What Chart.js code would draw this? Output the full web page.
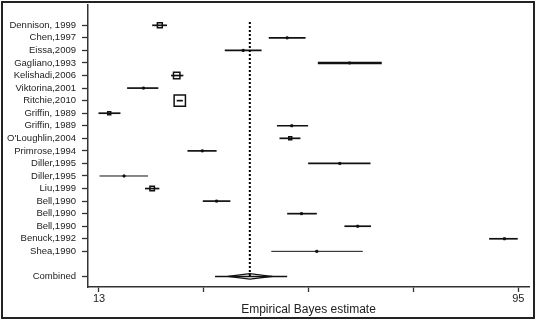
<!DOCTYPE html>
<html>
<head>
<meta charset="utf-8">
<script src="https://cdn.jsdelivr.net/npm/chart.js@4"></script>
<style>
  body { margin: 0; background: #fff; }
  #wrap { width: 536px; height: 320px; }
</style>
</head>
<body>
<div id="wrap"><canvas id="forestChart"></canvas></div>
<script>
// Study labels (top to bottom), combined row sits after one blank row
const studies = ['Dennison, 1999', 'Chen,1997', 'Eissa,2009', 'Gagliano,1993', 'Kelishadi,2006',
  'Viktorina,2001', 'Ritchie,2010', 'Griffin, 1989', 'Griffin, 1989', "O'Loughlin,2004",
  'Primrose,1994', 'Diller,1995', 'Diller,1995', 'Liu,1999', 'Bell,1990', 'Bell,1990',
  'Bell,1990', 'Benuck,1992', 'Shea,1990'];

// Point estimates and interval ends
const estimate = [24.9, 49.8, 41.2, 62.0, 28.2, 21.7, 28.8, 15.0, 50.7, 50.4,
  33.2, 60.1, 17.9, 23.4, 36.0, 52.6, 63.6, 92.3, 55.6];
const lower = [23.4, 46.2, 37.6, 55.8, 27.1, 18.5, 28.2, 12.9, 47.8, 48.3,
  30.3, 53.9, 13.1, 22.0, 33.3, 49.8, 61.0, 89.3, 46.7];
const upper = [26.3, 53.4, 44.8, 68.3, 29.5, 24.6, 29.4, 17.2, 53.9, 52.4,
  36.0, 66.1, 22.6, 24.8, 38.7, 55.6, 66.2, 94.9, 64.6];
// relative study weights (box area)
const weights = [3.0, 0.5, 0.5, 0.5, 5.2, 0.5, 16, 1.1, 0.5, 1.1,
  0.5, 0.5, 0.5, 2.5, 0.5, 0.5, 0.5, 0.5, 0.5];

// Combined estimate
const combinedLabel = 'Combined';
const combinedEst = 42.5;
const combinedCI = [35.7, 49.8];
const combinedDiamond = [38.2, 46.8];

// x axis tick values, only the ends are labelled
const xTicks = [13, 33.5, 54, 74.5, 95];
const xTickLabels = ['13', '', '', '', '95'];

const combinedRow = studies.length + 1;
const rowLabels = {};
studies.forEach((s, i) => rowLabels[i] = s);
rowLabels[combinedRow] = combinedLabel;

// line thickness tweaks for a few intervals
const thick = { 3: 2.6 };
const thin = { 12: 1, 18: 1 };

const datasets = [];

// dotted reference line at the combined estimate
datasets.push({
  data: [{ x: combinedEst, y: -0.27 }, { x: combinedEst, y: combinedRow - 0.03 }],
  showLine: true, borderColor: '#000', borderWidth: 2, borderDash: [2, 2],
  pointRadius: 0
});

// confidence interval lines
studies.forEach((s, i) => {
  datasets.push({
    data: [{ x: lower[i], y: i }, { x: upper[i], y: i }],
    showLine: true,
    borderColor: '#111',
    borderWidth: thick[i] || thin[i] || 1.7,
    pointRadius: 0
  });
});

// estimate markers, box size from weight
const radii = weights.map(w => 2 * Math.sqrt(w));
datasets.push({
  data: estimate.map((e, i) => ({ x: e, y: i })),
  pointStyle: 'rect',
  pointRadius: radii,
  pointBorderWidth: radii.map(r => r < 2 ? 1 : 1.5),
  pointBackgroundColor: radii.map(r => r < 2 ? '#000' : 'rgba(255,255,255,0)'),
  pointBorderColor: '#111',
  showLine: false
});

// combined row: interval line and flat diamond
datasets.push({
  data: [{ x: combinedCI[0], y: combinedRow }, { x: combinedCI[1], y: combinedRow }],
  showLine: true, borderColor: '#111', borderWidth: 1.5, pointRadius: 0
});
const dh = 0.22;
datasets.push({
  data: [
    { x: combinedDiamond[0], y: combinedRow },
    { x: combinedEst, y: combinedRow - dh },
    { x: combinedDiamond[1], y: combinedRow },
    { x: combinedEst, y: combinedRow + dh },
    { x: combinedDiamond[0], y: combinedRow }
  ],
  showLine: true, borderColor: '#111', borderWidth: 1.3, pointRadius: 0, tension: 0
});

const frame = {
  id: 'frame',
  beforeDraw(chart) {
    const c = chart.ctx;
    c.save();
    c.fillStyle = '#fff';
    c.fillRect(0, 0, chart.width, chart.height);
    c.restore();
  },
  afterDraw(chart) {
    const c = chart.ctx;
    c.save();
    c.strokeStyle = '#222';
    c.lineWidth = 2;
    c.strokeRect(2, 2, chart.width - 4, chart.height - 4);
    c.restore();
  }
};

new Chart(document.getElementById('forestChart'), {
  type: 'scatter',
  data: { datasets },
  options: {
    responsive: true,
    maintainAspectRatio: false,
    animation: false,
    layout: { autoPadding: false, padding: { left: 0, right: 7, top: 5, bottom: 0 } },
    plugins: { legend: { display: false }, tooltip: { enabled: false } },
    scales: {
      x: {
        type: 'linear',
        min: 10.85,
        max: 97.1,
        afterBuildTicks: s => { s.ticks = xTicks.map(v => ({ value: v })); },
        afterFit: s => { s.height = 33; s.paddingLeft = 0; s.paddingRight = 0; },
        ticks: {
          color: '#222',
          font: { family: 'Liberation Sans', size: 11 },
          padding: 0,
          maxRotation: 0,
          autoSkip: false,
          callback: (v, i) => xTickLabels[i]
        },
        grid: { drawOnChartArea: false, drawTicks: true, tickLength: 5, color: '#333', tickWidth: 1.3 },
        border: { display: true, color: '#333', width: 1.5 },
        title: {
          display: true,
          text: 'Empirical Bayes estimate',
          color: '#222',
          font: { family: 'Liberation Sans', size: 12 },
          padding: { top: 0, bottom: 3 }
        }
      },
      y: {
        type: 'linear',
        reverse: true,
        min: -1.617,
        max: 20.84,
        afterBuildTicks: s => {
          s.ticks = Object.keys(rowLabels).map(k => ({ value: Number(k) }));
        },
        afterFit: s => { s.width = 88; s.paddingTop = 0; s.paddingBottom = 0; },
        ticks: {
          color: '#222',
          font: { family: 'Liberation Sans', size: 9.5 },
          padding: 6,
          autoSkip: false,
          callback: v => rowLabels[v]
        },
        grid: { drawOnChartArea: false, drawTicks: true, tickLength: 6, color: '#333', tickWidth: 1.3 },
        border: { display: true, color: '#333', width: 1.5 }
      }
    }
  },
  plugins: [frame]
});
</script>
</body>
</html>
